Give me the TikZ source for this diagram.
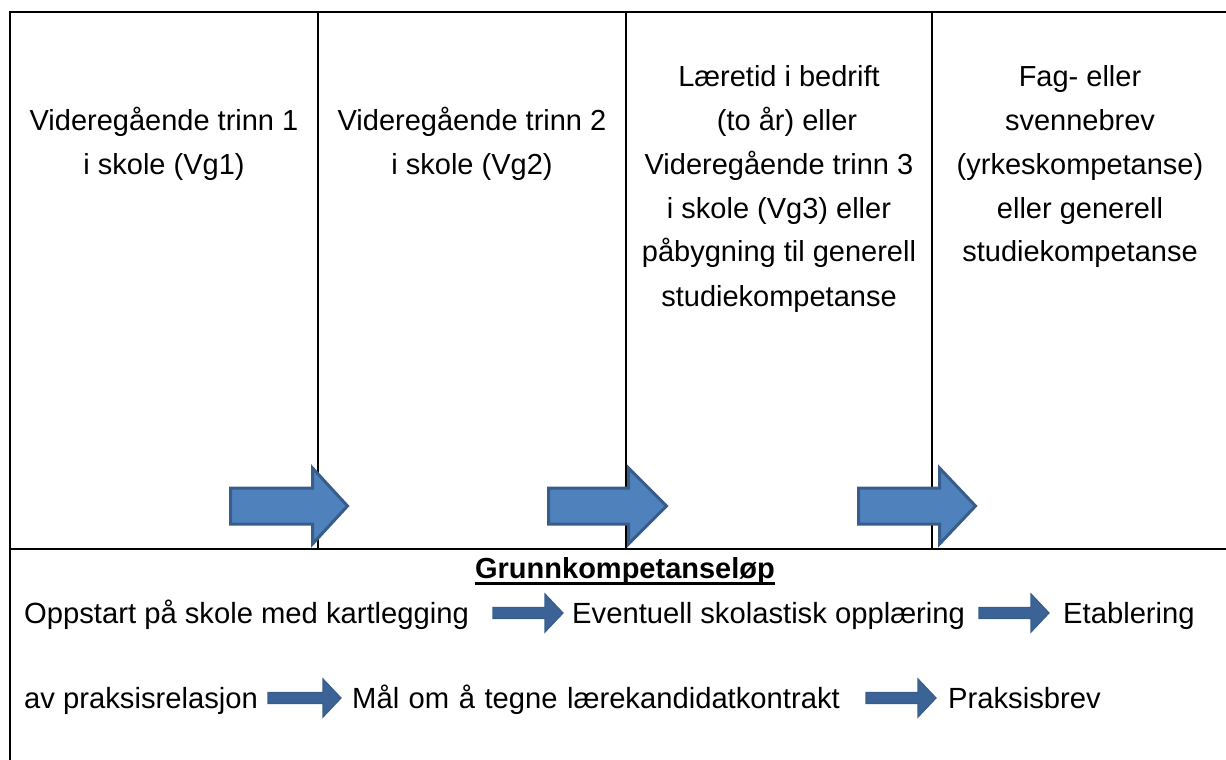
\documentclass[tikz,border=0pt]{standalone}
\usepackage{fontspec}
\setmainfont{Liberation Sans}
\definecolor{arrowfill}{HTML}{4F81BD}
\definecolor{arrowedge}{HTML}{385D8A}
\definecolor{arrowdark}{HTML}{3C6396}

% block arrow: style, left x, centre y, length, head length, shaft half height, head half height
\newcommand\blockarrow[7]{%
  \draw[#1] (#2,#3-#6) -- (#2+#4-#5,#3-#6) -- (#2+#4-#5,#3-#7) -- (#2+#4,#3)
    -- (#2+#4-#5,#3+#7) -- (#2+#4-#5,#3+#6) -- (#2,#3+#6) -- cycle;}

\begin{document}
\begin{tikzpicture}[x=1pt,y=-1pt,
  rule/.style={line width=2.5pt, black},
  divider/.style={line width=2pt, black},
  bigarrow/.style={fill=arrowfill, draw=arrowedge, line width=3pt, line join=miter},
  smallarrow/.style={fill=arrowdark, draw=arrowedge, line width=1.2pt, line join=miter},
  celltext/.style={inner sep=0pt, anchor=base, font=\fontsize{29}{44}\selectfont},
  rowtext/.style={inner sep=0pt, anchor=base west, font=\fontsize{29.2}{44}\selectfont},
  headtext/.style={inner sep=0pt, anchor=base, font=\fontsize{29}{44}\selectfont\bfseries}]

\useasboundingbox (0,0) rectangle (1226,760);

% frame and grid
\coordinate (tl) at (10,12);
\coordinate (tr) at (1226,12);
\coordinate (bl) at (10,760);
\coordinate (ml) at (10,549);
\coordinate (mr) at (1226,549);
\draw[rule] (tr) -- (tl) -- (bl);
\draw[rule] (ml) -- (mr);
\foreach \x in {318,626,932}
  \draw[divider] (\x,12) -- (\x,549);

% column texts
\node[celltext] (vg1) at (164,130) {\begin{tabular}[t]{@{}c@{}}Videregående trinn 1\\i skole (Vg1)\end{tabular}};
\node[celltext] (vg2) at (472,130) {\begin{tabular}[t]{@{}c@{}}Videregående trinn 2\\i skole (Vg2)\end{tabular}};
\node[celltext] (vg3) at (779,86) {\begin{tabular}[t]{@{}c@{}}Læretid i bedrift\\\ \ (to år) eller\\Videregående trinn 3\\i skole (Vg3) eller\\påbygning til generell\\studiekompetanse\end{tabular}};
\node[celltext] (brev) at (1080,86) {\begin{tabular}[t]{@{}c@{}}Fag- eller\\svennebrev\\(yrkeskompetanse)\\eller generell\\studiekompetanse\end{tabular}};

% big progression arrows
\blockarrow{bigarrow}{230.5}{506}{117}{35}{18}{38}
\blockarrow{bigarrow}{548.5}{506}{118}{38}{18}{38}
\blockarrow{bigarrow}{858.5}{506}{117}{36}{18}{38}

% lower band
\node[headtext] (gk) at (625,578) {Grunnkompetanseløp};
\draw[line width=2.5pt] ([yshift=-5.5pt]gk.base west) -- ([yshift=-5.5pt]gk.base east);

\node[rowtext] (r1a) at (24,623) {Oppstart på skole med kartlegging};
\node[rowtext] (r1b) at (572,623) {Eventuell skolastisk opplæring};
\node[rowtext] (r1c) at (1063,623) {Etablering};
\node[rowtext] (r2a) at (24,708) {av praksisrelasjon};
\node[rowtext] (r2b) at (352,708) {\spaceskip=9.5pt\relax Mål om å tegne lærekandidatkontrakt};
\node[rowtext] (r2c) at (948,708) {Praksisbrev};

\blockarrow{smallarrow}{493}{613}{70}{18}{5.5}{19}
\blockarrow{smallarrow}{979}{613}{70}{18}{5.5}{19}
\blockarrow{smallarrow}{268}{698}{73}{18}{5.5}{19}
\blockarrow{smallarrow}{866}{698}{70}{18}{5.5}{19}
\end{tikzpicture}
\end{document}
